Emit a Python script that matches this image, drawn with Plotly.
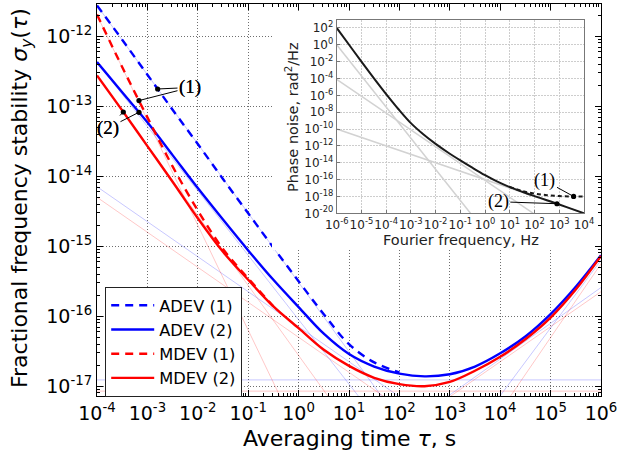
import numpy as np
import plotly.graph_objects as go

# ---------------- main panel data ----------------
TAU = [1e-4, 3.16e-4, 1e-3, 3.16e-3, 1e-2, 3.16e-2, 1e-1, 3.16e-1, 1.0, 3.16, 10.0, 31.6,
       100.0, 316.0, 1e3, 3.16e3, 1e4, 3.16e4, 1e5, 3.16e5, 1e6]
ADEV_2 = [4.27e-13, 1.58e-13, 5.89e-14, 2.00e-14, 6.76e-15, 2.40e-15, 8.71e-16, 3.31e-16,
          1.35e-16, 5.62e-17, 2.88e-17, 1.91e-17, 1.51e-17, 1.38e-17, 1.48e-17, 1.91e-17,
          2.95e-17, 5.13e-17, 1.07e-16, 2.63e-16, 7.41e-16]
MDEV_2 = [2.75e-13, 8.71e-14, 2.69e-14, 8.32e-15, 2.51e-15, 8.32e-16, 3.31e-16, 1.38e-16,
          6.76e-17, 3.31e-17, 1.95e-17, 1.32e-17, 1.07e-17, 1.00e-17, 1.15e-17, 1.66e-17,
          2.63e-17, 4.68e-17, 9.55e-17, 2.40e-16, 7.24e-16]
TAU_ADEV_1 = TAU[:13]
ADEV_1 = [2.75e-12, 8.91e-13, 2.82e-13, 8.91e-14, 2.88e-14, 9.12e-15, 2.95e-15, 9.55e-16,
          3.16e-16, 1.07e-16, 3.98e-17, 2.19e-17, 1.58e-17]
TAU_MDEV_1 = TAU[:8]
MDEV_1 = [2.04e-12, 3.63e-13, 6.92e-14, 1.38e-14, 3.24e-15, 9.12e-16, 3.47e-16, 1.38e-16]

# faint noise-component asymptotes (start / end points)
ADEV_PARTS_TAU = [[1e-4, 1e2], [1e-4, 1e2], [1e-4, 1e3], [1e-4, 1e6], [316.0, 1e6], [6.3e3, 1e6]]
ADEV_PARTS_SIG = [[2.75e-12, 3.2e-18], [4.27e-13, 1.29e-18], [7.08e-15, 2.24e-18],
                  [1.23e-17, 1.23e-17], [4.17e-18, 2.57e-16], [4.68e-18, 6.31e-16]]
MDEV_PARTS_TAU = [[1e-4, 0.63], [1e-4, 10.0], [1e-4, 1e3], [1e-4, 1e6], [794.0, 1e6], [1.26e4, 1e6]]
MDEV_PARTS_SIG = [[2.0e-12, 4.0e-18], [2.75e-13, 2.75e-18], [5.0e-15, 1.58e-18],
                  [8.5e-18, 8.5e-18], [6.3e-18, 2.24e-16], [5.6e-18, 5.6e-16]]

MAIN_X_EXP = list(range(-4, 7))
MAIN_Y_EXP = list(range(-17, -11))

# ---------------- inset data ----------------
FREQ = [1e-6, 3.16e-6, 1e-5, 3.16e-5, 1e-4, 3.16e-4, 1e-3, 3.16e-3, 1e-2, 3.16e-2, 0.1, 0.316,
        1.0, 3.16, 10.0, 31.6, 100.0, 316.0, 1e3, 3.16e3, 1e4]
PN_2 = [1e2, 1.0, 1e-2, 1.12e-4, 1.41e-6, 2.24e-8, 5.01e-10, 2.40e-11, 1.74e-12, 1.66e-13,
        1.91e-14, 2.40e-15, 3.31e-16, 5.62e-17, 1.26e-17, 3.55e-18, 1.10e-18, 3.55e-19,
        1.10e-19, 3.31e-20, 1.0e-20]
FREQ_1 = FREQ[14:]
PN_1 = [1.32e-17, 4.47e-18, 2.24e-18, 1.41e-18, 1.12e-18, 1.0e-18, 9.55e-19]
PN_PARTS_F = [[1e-6, 0.257], [1e-6, 89.0], [1e-6, 1e4]]
PN_PARTS_S = [[1.0, 1e-20], [7.9e-5, 1e-20], [1e-10, 1e-20]]
INSET_X_EXP = list(range(-6, 5))
INSET_Y_EXP = list(range(-20, 3, 2))

# ---------------- geometry (pixels) ----------------
W, H = 617, 459
L, R, T, B = 97, 16, 4, 63
PX0, PX1, PY0, PY1 = L, W - R, T, H - B
XR_MAIN = [-4, 6]
YR_MAIN = [-17.14, -11.54]
INS = dict(x0=336.7, x1=584.0, y0=19.5, y1=213.3)
XR_IN = [-6, 4]
YR_IN = [-20, 3]
COVER = dict(x0=272.0, x1=594.0, y0=11.0, y1=250.0)


def dom_x(a, b):
    return [(a - PX0) / (PX1 - PX0), (b - PX0) / (PX1 - PX0)]


def dom_y(top, bot):
    return [(PY1 - bot) / (PY1 - PY0), (PY1 - top) / (PY1 - PY0)]


def main_px(lx, ly):
    return (PX0 + (lx - XR_MAIN[0]) / (XR_MAIN[1] - XR_MAIN[0]) * (PX1 - PX0),
            PY0 + (YR_MAIN[1] - ly) / (YR_MAIN[1] - YR_MAIN[0]) * (PY1 - PY0))


def ins_px(lx, ly):
    return (INS['x0'] + (lx - XR_IN[0]) / (XR_IN[1] - XR_IN[0]) * (INS['x1'] - INS['x0']),
            INS['y0'] + (YR_IN[1] - ly) / (YR_IN[1] - YR_IN[0]) * (INS['y1'] - INS['y0']))


def log_interp(xq, xs, ys):
    return float(np.interp(xq, np.log10(xs), np.log10(ys)))


def sup(k):
    return "10<sup>" + ("-" if k < 0 else "") + str(abs(k)) + "</sup>"


BLUE = "#0000ff"
RED = "#ff0000"
FONT = "DejaVu Sans"
SERIF = "Liberation Serif"

fig = go.Figure()

# faint component lines
for tx, sy in zip(ADEV_PARTS_TAU, ADEV_PARTS_SIG):
    fig.add_trace(go.Scatter(x=tx, y=sy, mode="lines", showlegend=False, hoverinfo="skip",
                             line=dict(color="rgba(0,0,255,0.22)", width=1)))
for tx, sy in zip(MDEV_PARTS_TAU, MDEV_PARTS_SIG):
    fig.add_trace(go.Scatter(x=tx, y=sy, mode="lines", showlegend=False, hoverinfo="skip",
                             line=dict(color="rgba(255,0,0,0.22)", width=1)))

LW = 2.4
fig.add_trace(go.Scatter(x=TAU_ADEV_1, y=ADEV_1, mode="lines", name="ADEV (1)",
                         line=dict(color=BLUE, width=LW, dash="8px,6px", shape="spline")))
fig.add_trace(go.Scatter(x=TAU, y=ADEV_2, mode="lines", name="ADEV (2)",
                         line=dict(color=BLUE, width=LW, shape="spline")))
fig.add_trace(go.Scatter(x=TAU_MDEV_1, y=MDEV_1, mode="lines", name="MDEV (1)",
                         line=dict(color=RED, width=LW, dash="8px,6px", shape="spline")))
fig.add_trace(go.Scatter(x=TAU, y=MDEV_2, mode="lines", name="MDEV (2)",
                         line=dict(color=RED, width=LW, shape="spline")))

# white cover behind the inset (empty subplot whose background hides the main grid)
fig.add_trace(go.Scatter(x=[None], y=[None], xaxis="x2", yaxis="y2", showlegend=False,
                         hoverinfo="skip"))

# inset
for fx, sy in zip(PN_PARTS_F, PN_PARTS_S):
    fig.add_trace(go.Scatter(x=fx, y=sy, mode="lines", xaxis="x3", yaxis="y3", showlegend=False,
                             hoverinfo="skip", line=dict(color="#d2d2d2", width=1.5)))
fig.add_trace(go.Scatter(x=FREQ, y=PN_2, mode="lines", xaxis="x3", yaxis="y3", showlegend=False,
                         line=dict(color="#1a1a1a", width=2, shape="spline")))
fig.add_trace(go.Scatter(x=FREQ_1, y=PN_1, mode="lines", xaxis="x3", yaxis="y3", showlegend=False,
                         line=dict(color="#1a1a1a", width=2, dash="4px,3px", shape="spline")))

minor_main_x = [m * 10.0 ** k for k in range(-4, 6) for m in range(2, 10)]
minor_main_y = [m * 10.0 ** k for k in range(-18, -11) for m in range(2, 10)]

axis_common = dict(type="log", showline=True, linecolor="black", linewidth=1, mirror="ticks",
                   ticks="inside", ticklen=6, tickwidth=1, tickcolor="black", zeroline=False,
                   showgrid=True, gridcolor="#6e6e6e", griddash="1px,2px", gridwidth=1,
                   tickfont=dict(family=FONT, size=19, color="black"), tickmode="array",
                   tickangle=0, ticklabeloverflow="allow")

fig.update_layout(
    width=W, height=H, margin=dict(l=L, r=R, t=T, b=B, pad=0),
    paper_bgcolor="white", plot_bgcolor="white", template="none",
    xaxis=dict(axis_common, range=XR_MAIN, domain=[0, 1],
               tickvals=[10.0 ** k for k in MAIN_X_EXP], ticktext=[sup(k) for k in MAIN_X_EXP],
               minor=dict(tickmode="array", tickvals=minor_main_x, ticks="inside", ticklen=3,
                          tickwidth=1, tickcolor="black", showgrid=False)),
    yaxis=dict(axis_common, range=YR_MAIN, domain=[0, 1],
               tickvals=[10.0 ** k for k in MAIN_Y_EXP], ticktext=[sup(k) for k in MAIN_Y_EXP],
               minor=dict(tickmode="array", tickvals=minor_main_y, ticks="inside", ticklen=3,
                          tickwidth=1, tickcolor="black", showgrid=False)),
    xaxis2=dict(domain=dom_x(COVER['x0'], COVER['x1']), anchor="y2", visible=False, range=[0, 1]),
    yaxis2=dict(domain=dom_y(COVER['y0'], COVER['y1']), anchor="x2", visible=False, range=[0, 1]),
    xaxis3=dict(type="log", range=XR_IN, domain=dom_x(INS['x0'], INS['x1']), anchor="y3",
                showline=True, linecolor="#777777", linewidth=1, mirror=True,
                ticks="inside", ticklen=3, tickcolor="#777777", zeroline=False,
                showgrid=True, gridcolor="#cdcdcd", griddash="2px,1px", gridwidth=1,
                tickmode="array", tickvals=[10.0 ** k for k in INSET_X_EXP],
                ticktext=[sup(k) for k in INSET_X_EXP], tickangle=0,
                tickfont=dict(family=FONT, size=12, color="#222222")),
    yaxis3=dict(type="log", range=YR_IN, domain=dom_y(INS['y0'], INS['y1']), anchor="x3",
                showline=True, linecolor="#777777", linewidth=1, mirror=True,
                ticks="inside", ticklen=3, tickcolor="#777777", zeroline=False,
                showgrid=True, gridcolor="#cdcdcd", griddash="2px,1px", gridwidth=1,
                tickmode="array", tickvals=[10.0 ** k for k in INSET_Y_EXP],
                ticktext=[sup(k) for k in INSET_Y_EXP],
                tickfont=dict(family=FONT, size=12, color="#222222")),
    legend=dict(x=(105 - PX0) / (PX1 - PX0), y=(PY1 - 287) / (PY1 - PY0), xanchor="left",
                yanchor="top", bgcolor="white", bordercolor="#222222", borderwidth=1.2,
                font=dict(family=FONT, size=16.3, color="black"), itemwidth=43,
                traceorder="normal"),
    showlegend=True,
)

ann = []
# axis titles
ann.append(dict(text="Fractional frequency stability <i>σ</i><sub><i>y</i></sub>(<i>τ</i>)",
                xref="paper", yref="paper", x=(21 - PX0) / (PX1 - PX0),
                y=(PY1 - 198) / (PY1 - PY0), textangle=-90, showarrow=False,
                xanchor="center", yanchor="middle", font=dict(family=FONT, size=22, color="black")))
ann.append(dict(text="Averaging time <i>τ</i>, s", xref="paper", yref="paper",
                x=((PX0 + PX1) / 2 - PX0) / (PX1 - PX0), y=(PY1 - 438) / (PY1 - PY0),
                showarrow=False, xanchor="center", yanchor="middle",
                font=dict(family=FONT, size=22, color="black")))
ann.append(dict(text="Phase noise, rad<sup>2</sup>/Hz", xref="paper", yref="paper",
                x=(292 - PX0) / (PX1 - PX0), y=(PY1 - 117) / (PY1 - PY0), textangle=-90,
                showarrow=False, xanchor="center", yanchor="middle",
                font=dict(family=FONT, size=14.5, color="#222222")))
ann.append(dict(text="Fourier frequency, Hz", xref="paper", yref="paper",
                x=(460.5 - PX0) / (PX1 - PX0), y=(PY1 - 240) / (PY1 - PY0),
                showarrow=False, xanchor="center", yanchor="middle",
                font=dict(family=FONT, size=14.5, color="#222222")))


def main_label(text, text_px, lx, xs, ys):
    ly = log_interp(lx, xs, ys)
    px, py = main_px(lx, ly)
    return dict(text=text, xref="x", yref="y", x=lx, y=ly, ax=text_px[0] - px, ay=text_px[1] - py,
                showarrow=True, arrowhead=6, arrowsize=1.3, arrowwidth=1, arrowcolor="black",
                standoff=0, font=dict(family=SERIF, size=19, color="black"))


def inset_label(text, text_px, lx, xs, ys):
    ly = log_interp(lx, xs, ys)
    px, py = ins_px(lx, ly)
    return dict(text=text, xref="x3", yref="y3", x=lx, y=ly, ax=text_px[0] - px,
                ay=text_px[1] - py, showarrow=True, arrowhead=6, arrowsize=1.3, arrowwidth=1,
                arrowcolor="black", standoff=0, font=dict(family=SERIF, size=18, color="black"))


ann.append(main_label("(1)", (190, 87.5), -2.796, TAU_ADEV_1, ADEV_1))
ann.append(main_label("(1)", (190, 87.5), -3.167, TAU_MDEV_1, MDEV_1))
ann.append(main_label("(2)", (108, 128), -3.478, TAU, MDEV_2))
ann.append(main_label("(2)", (108, 128), -3.167, TAU, ADEV_2))
ann.append(inset_label("(1)", (545, 180.7), 3.58, FREQ_1, PN_1))
ann.append(inset_label("(2)", (498.3, 201.7), 2.907, FREQ, PN_2))

fig.update_layout(annotations=ann)

fig.write_html("out.html")
